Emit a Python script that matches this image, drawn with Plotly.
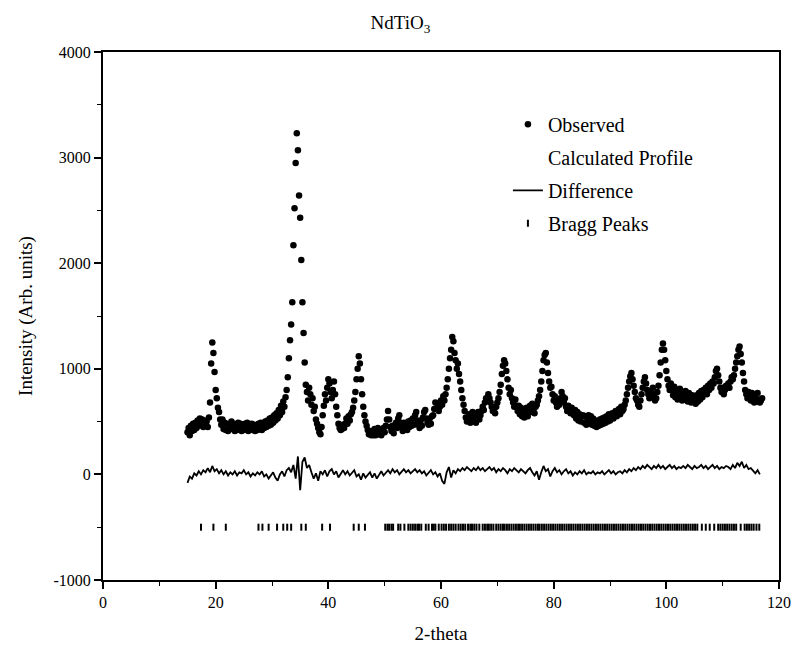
import numpy as np
import plotly.graph_objects as go

# ---------------- data ----------------
# Observed profile, 2-theta from 15.0 to 117.0 in 0.2 deg steps (rows of 2 deg)
obs_start, obs_step = 15.0, 0.2
obs_rows = [
    [400, 440, 370, 460, 410, 480, 420, 490, 440, 510],      # 15
    [460, 530, 470, 520, 450, 510, 460, 500, 450, 540],      # 17
    [680, 1050, 1250, 1150, 970, 800, 720, 630, 590, 520],   # 19
    [470, 520, 430, 490, 420, 480, 410, 470, 430, 500],      # 21
    [430, 480, 410, 470, 420, 490, 430, 480, 410, 460],      # 23
    [420, 480, 430, 490, 410, 470, 430, 480, 420, 470],      # 25
    [410, 460, 420, 480, 430, 490, 420, 470, 440, 500],      # 27
    [450, 510, 460, 530, 470, 540, 490, 560, 510, 580],      # 29
    [530, 610, 560, 650, 590, 690, 640, 730, 800, 920],      # 31
    [1100, 1270, 1420, 1630, 2170, 2520, 2950, 3230, 3070, 2640],  # 33
    [2430, 2030, 1630, 1340, 1060, 850, 780, 700, 820, 760], # 35
    [660, 720, 600, 640, 520, 480, 440, 400, 380, 450],      # 37
    [560, 650, 760, 700, 820, 900, 860, 780, 720, 800],      # 39
    [880, 760, 640, 560, 480, 440, 420, 430, 470, 440],      # 41
    [480, 530, 480, 550, 510, 570, 590, 630, 700, 780],      # 43
    [900, 1000, 1120, 1050, 900, 760, 640, 560, 500, 460],   # 45
    [420, 380, 390, 370, 410, 370, 430, 370, 410, 440],      # 47
    [380, 420, 370, 410, 440, 400, 460, 520, 600, 520],      # 49
    [450, 410, 460, 390, 450, 490, 440, 530, 560, 490],      # 51
    [450, 410, 490, 430, 480, 420, 500, 450, 510, 460],      # 53
    [530, 470, 560, 590, 510, 470, 440, 510, 460, 540],      # 55
    [590, 610, 530, 490, 470, 530, 480, 550, 560, 620],      # 57
    [680, 620, 660, 600, 640, 700, 660, 740, 700, 760],      # 59
    [820, 900, 1000, 1100, 1180, 1300, 1260, 1150, 1080, 1000],  # 61
    [1050, 950, 880, 800, 720, 660, 600, 540, 500, 520],     # 63
    [570, 490, 550, 590, 510, 570, 490, 550, 590, 520],      # 65
    [560, 600, 640, 610, 680, 720, 700, 760, 720, 680],      # 67
    [640, 600, 620, 580, 640, 680, 720, 780, 850, 950],      # 69
    [1030, 1080, 1050, 980, 900, 820, 760, 800, 720, 680],   # 71
    [640, 710, 650, 600, 650, 570, 630, 550, 610, 540],      # 73
    [580, 630, 550, 610, 650, 590, 670, 610, 580, 640],      # 75
    [660, 700, 740, 800, 880, 980, 1080, 1130, 1150, 1060],  # 77
    [960, 880, 820, 830, 760, 700, 740, 680, 640, 700],      # 79
    [660, 720, 780, 740, 680, 720, 640, 600, 650, 620],      # 81
    [580, 630, 590, 560, 610, 530, 590, 510, 570, 500],      # 83
    [550, 560, 490, 550, 470, 530, 560, 490, 550, 470],      # 85
    [530, 460, 510, 450, 500, 460, 520, 470, 530, 480],      # 87
    [540, 490, 550, 500, 570, 510, 560, 580, 530, 580],      # 89
    [600, 550, 590, 620, 570, 640, 600, 620, 660, 700],      # 91
    [760, 820, 880, 930, 960, 900, 840, 780, 720, 700],      # 93
    [660, 640, 700, 760, 820, 880, 920, 860, 800, 760],      # 95
    [720, 780, 740, 820, 760, 700, 720, 780, 840, 940],      # 97
    [1060, 1180, 1240, 1180, 1080, 980, 900, 840, 800, 860], # 99
    [800, 750, 830, 730, 790, 710, 770, 810, 730, 700],      # 101
    [770, 710, 790, 730, 690, 770, 710, 680, 750, 690],      # 103
    [730, 670, 750, 690, 770, 710, 790, 730, 800, 780],      # 105
    [820, 760, 840, 800, 860, 820, 880, 860, 920, 980],      # 107
    [1000, 940, 880, 820, 780, 820, 760, 800, 840, 820],     # 109
    [860, 820, 880, 920, 900, 940, 1000, 1060, 1120, 1180],  # 111
    [1210, 1140, 1060, 960, 880, 800, 760, 720, 780, 740],   # 113
    [700, 770, 710, 680, 750, 690, 770, 710, 680, 700],      # 115
    [720],                                                   # 117
]

# Difference curve, 2-theta from 15.0 in 0.4 deg steps (rows of 4 deg)
diff_start, diff_step = 15.0, 0.4
diff_rows = [
    [-80, -20, -40, 10, -10, 30, 0, 40, 20, 60],       # 15
    [20, 80, 30, 50, 10, 40, 0, 30, -10, 20],          # 19
    [0, 30, -10, 20, 10, 40, 0, 20, -20, 10],          # 23
    [-10, 20, 0, 30, -20, 0, -40, -10, 20, -30],       # 27
    [-60, 0, 30, -20, 40, 60, 20, 90, -40, 170],       # 31
    [-150, 120, 160, 60, 90, 20, -40, 10, -60, 30],    # 35
    [0, 40, -20, 30, 50, 0, 30, -30, 10, 40],          # 39
    [0, 30, -10, 20, 40, -20, 0, -50, 10, -30],        # 43
    [0, 20, -30, 10, -40, 0, 30, -10, 20, 40],         # 47
    [10, 50, 20, 40, 0, 30, 50, 20, 40, 10],           # 51
    [30, 50, 20, 40, 10, 30, -10, 20, 40, 0],          # 55
    [20, -20, 10, -60, -90, 20, 70, -30, 40, 10],      # 59
    [50, 30, 60, 40, 70, 50, 30, 60, 40, 70],          # 63
    [40, 60, 30, 50, 70, 40, 60, 20, 50, 30],          # 67
    [60, 40, 10, 50, 30, 60, 40, 20, 50, 30],          # 71
    [10, 40, 60, 20, -10, 30, -50, 20, 80, 30],        # 75
    [50, -20, 30, 60, 20, 40, 0, 30, 50, 10],          # 79
    [30, -10, 20, 0, 30, 10, 40, 0, 20, 10],           # 83
    [30, 0, 20, 10, 30, 0, 20, 40, 10, 30],            # 87
    [0, 20, 30, 10, 40, 20, 50, 30, 60, 40],           # 91
    [70, 50, 80, 60, 90, 70, 50, 80, 60, 90],          # 95
    [60, 80, 50, 70, 90, 60, 80, 50, 70, 60],          # 99
    [80, 60, 90, 70, 50, 80, 60, 70, 90, 60],          # 103
    [80, 50, 70, 90, 60, 80, 50, 70, 60, 80],          # 107
    [70, 50, 90, 60, 110, 80, 120, 60, 90, 50],        # 111
    [60, 30, 10, 40, 0],                               # 115
]

# Bragg peak positions (2-theta) and the level they are marked at
bragg_pos = [
    17.4, 19.6, 21.8, 27.6, 28.3, 29.4, 30.9, 32.0, 32.7, 33.4, 35.2, 36.0,
    38.9, 40.3, 44.5, 45.4, 46.5,
    50.1, 50.5, 50.8, 51.2, 51.5, 52.4, 52.8, 53.5, 54.2, 54.6, 55.0, 55.4,
    55.8, 56.1, 56.5, 57.3, 57.8, 58.4, 58.7, 59.0, 59.6, 60.1, 60.5, 60.9,
    61.4, 61.8, 62.2, 62.6, 63.1, 63.5, 63.9, 64.3, 64.8, 65.2, 65.5, 65.9,
    66.3, 66.8, 67.4, 67.8, 68.2, 68.5, 68.9, 69.3, 69.8, 70.2, 70.6, 71.0,
    71.3, 71.7, 72.1, 72.5, 72.9, 73.3, 73.7, 74.0, 74.4, 74.8, 75.2, 75.6,
    76.0, 76.4, 76.8, 77.2, 77.5, 77.9, 78.3, 78.7, 79.1, 79.5, 79.9, 80.3,
    80.7, 81.1, 81.5, 81.9, 82.3, 82.7, 83.1, 83.5, 83.9, 84.3, 84.7, 85.1,
    85.5, 85.9, 86.3, 86.7, 87.1, 87.5, 87.9, 88.3, 88.7, 89.1, 89.5, 89.9,
    90.3, 90.7, 91.1, 91.5, 91.9, 92.3, 92.7, 93.1, 93.5, 93.9, 94.3, 94.7,
    95.1, 95.5, 95.9, 96.3, 96.7, 97.1, 97.5, 97.9, 98.3, 98.7, 99.1, 99.5,
    99.9, 100.3, 100.7, 101.1, 101.5, 101.9, 102.3, 102.7, 103.1, 103.5,
    103.9, 104.3, 104.7, 105.1, 105.5, 106.3, 107.0, 107.7, 108.5, 109.2,
    109.6, 110.0, 110.4, 110.8, 111.2, 111.6, 112.0, 112.4, 113.2, 113.9,
    114.3, 114.7, 115.1, 115.5, 116.0, 116.5,
]
bragg_level = -500

x_ticks = [0, 20, 40, 60, 80, 100, 120]
y_ticks = [-1000, 0, 1000, 2000, 3000, 4000]

# ---------------- build series ----------------
obs_y = [v for row in obs_rows for v in row]
obs_x = list(np.round(obs_start + obs_step * np.arange(len(obs_y)), 2))
diff_y = [v for row in diff_rows for v in row]
diff_x = list(np.round(diff_start + diff_step * np.arange(len(diff_y)), 2))

FONT = "Liberation Serif"

fig = go.Figure()
fig.add_trace(go.Scatter(
    x=obs_x, y=obs_y, mode="markers", name="Observed", legendgroup="a",
    marker=dict(symbol="circle", size=6.5, color="black", line=dict(width=0)),
))
fig.add_trace(go.Scatter(
    x=[None], y=[None], mode="lines", name="Calculated Profile", legendgroup="b",
    line=dict(color="rgba(0,0,0,0)", width=1),
))
fig.add_trace(go.Scatter(
    x=diff_x, y=diff_y, mode="lines", name="Difference", legendgroup="c",
    line=dict(color="black", width=1.8),
))
fig.add_trace(go.Scatter(
    x=bragg_pos, y=[bragg_level] * len(bragg_pos), mode="markers",
    name="Bragg Peaks", legendgroup="d",
    marker=dict(symbol="line-ns", size=5, color="black",
                line=dict(color="black", width=2)),
))

axis_common = dict(
    showline=True, linecolor="black", linewidth=2, mirror=True,
    ticks="outside", tickcolor="black", tickwidth=1.5, ticklen=7,
    showgrid=False, zeroline=False, automargin=False,
    tickfont=dict(family=FONT, size=16, color="black"),
    title_font=dict(family=FONT, size=19, color="black"),
)

fig.update_xaxes(
    range=[0, 120], tickvals=x_ticks, ticktext=[str(v) for v in x_ticks],
    minor=dict(dtick=10, ticks="outside", ticklen=4, tickcolor="black", tickwidth=1.2),
    title_text="2-theta", title_standoff=16, **axis_common,
)
fig.update_yaxes(
    range=[-1000, 4000], tickvals=y_ticks, ticktext=[str(v) for v in y_ticks],
    minor=dict(dtick=500, ticks="outside", ticklen=4, tickcolor="black", tickwidth=1.2),
    title_text="Intensity (Arb. units)", title_standoff=16, **axis_common,
)

fig.update_layout(
    width=795, height=646,
    margin=dict(l=103, r=16, t=52, b=66),
    paper_bgcolor="white", plot_bgcolor="white",
    font=dict(family=FONT, color="black"),
    title=dict(text="NdTiO<sub>3</sub>", x=0.44, xref="paper", xanchor="center",
               y=0.965, yref="container", yanchor="middle",
               font=dict(family=FONT, size=19, color="black")),
    showlegend=True,
    legend=dict(x=0.599, y=0.9, xanchor="left", yanchor="top",
                bgcolor="rgba(0,0,0,0)", borderwidth=0,
                font=dict(family=FONT, size=20, color="black"),
                tracegroupgap=4, itemwidth=30),
)

fig.write_html("out.html")
